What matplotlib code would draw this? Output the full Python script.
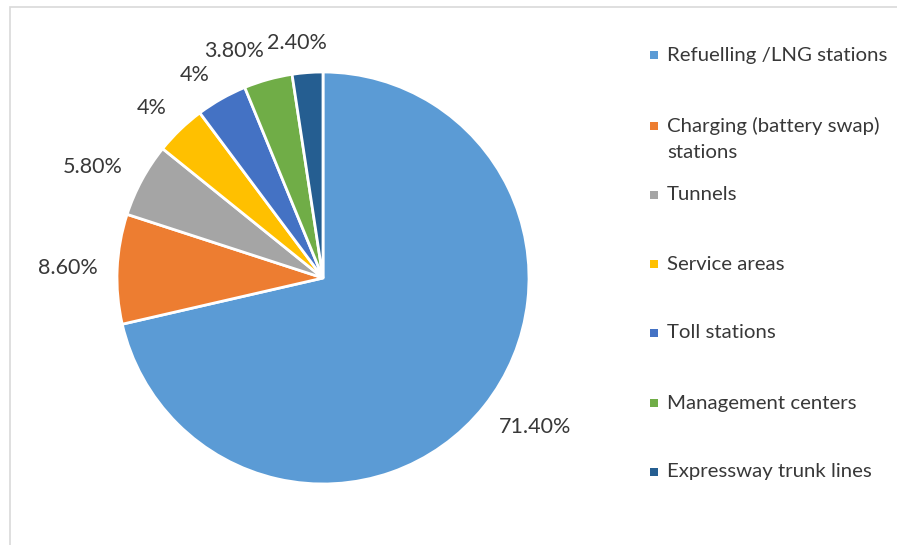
import matplotlib
matplotlib.use("Agg")
import numpy as np
import matplotlib.pyplot as plt
from matplotlib.patches import Rectangle

categories = [
    "Refuelling /LNG stations",
    "Charging (battery swap)\nstations",
    "Tunnels",
    "Service areas",
    "Toll stations",
    "Management centers",
    "Expressway trunk lines",
]
shares = [71.4, 8.6, 5.8, 4.0, 4.0, 3.8, 2.4]
colors = ["#5B9BD5", "#ED7D31", "#A5A5A5", "#FFC000", "#4472C4", "#70AD47", "#255E91"]

# small angular shifts (degrees) so the crowded labels at the top don't collide
label_shift = [3.5, 0.3, 2.7, 1.3, 2.8, 6.0, 2.1]

TEXT_COLOR = "#383838"
plt.rcParams["font.family"] = ["Lato", "DejaVu Sans"]

W, H = 897, 545
fig = plt.figure(figsize=(W / 100, H / 100), dpi=100)

# frame around the chart area
fig.patches.append(Rectangle((10 / W, -0.1), 1.2, (H - 7) / H + 0.1,
                             transform=fig.transFigure, fill=False,
                             edgecolor="#d9d9d9", linewidth=1.2))

# pie axes: centre (323, 278) px, radius 206 px
cx, cy, R = 323, 278, 206
ax = fig.add_axes([(cx - R) / W, (H - cy - R) / H, 2 * R / W, 2 * R / H])
wedges, _ = ax.pie(shares, colors=colors, startangle=90, counterclock=False,
                   radius=1.0, wedgeprops=dict(edgecolor="white", linewidth=2))
ax.set_xlim(-1, 1)
ax.set_ylim(-1, 1)
ax.set_aspect("equal")
ax.axis("off")


def fmt(v):
    return f"{v:g}%" if float(v).is_integer() else f"{v:.2f}%"


# value labels just outside each wedge, pushed out by their own box size
fig.canvas.draw()
renderer = fig.canvas.get_renderer()
gap = 19
for w, v, shift in zip(wedges, shares, label_shift):
    theta = np.deg2rad((w.theta1 + w.theta2) / 2 + shift)
    t = ax.text(0, 0, fmt(v), ha="center", va="center", fontsize=15.5,
                color=TEXT_COLOR)
    bb = t.get_window_extent(renderer)
    hw, hh = bb.width / 2, bb.height / 2 - 2
    r_px = R + gap + abs(np.cos(theta)) * hw + abs(np.sin(theta)) * hh
    t.set_position((r_px / R * np.cos(theta), r_px / R * np.sin(theta)))

# legend drawn as a column of squares and labels
leg_x, leg_y, line_h = 667, [55, 126, 195, 264, 333, 403, 472], 26
for y, c, lab in zip(leg_y, colors, categories):
    fig.patches.append(Rectangle(((654 - 4) / W, (H - y - 4) / H), 8 / W, 8 / H,
                                 transform=fig.transFigure, facecolor=c,
                                 edgecolor="none"))
    for i, line in enumerate(lab.split("\n")):
        fig.text(leg_x / W, (H - y - i * line_h) / H, line, ha="left",
                 va="center", fontsize=14.7, color=TEXT_COLOR)

fig.savefig("out.png", dpi=100, facecolor="white")
